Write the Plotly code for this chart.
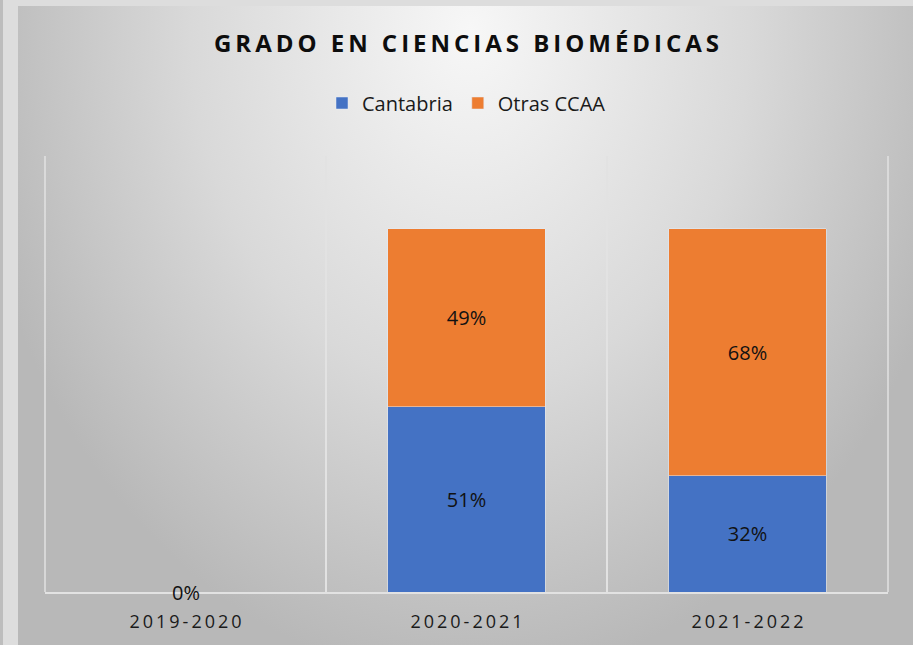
import base64
import plotly.graph_objects as go

# ---- data ----
categories = ["2019-2020", "2020-2021", "2021-2022"]
cantabria = [0, 51, 32]
otras_ccaa = [0, 49, 68]
series_names = ["Cantabria", "Otras CCAA"]
title_text = "GRADO EN CIENCIAS BIOMÉDICAS"

BLUE = "#4472C4"
ORANGE = "#ED7D31"
GRID = "#e2e2e2"
W, H = 913, 645
THIN = "\u2009"

def spaced(s, gap=THIN):
    words = s.split(" ")
    return (gap + " " + gap).join(gap.join(list(w)) for w in words)

tick_text = [spaced(c) for c in categories]

# plot-area geometry (pixels)
L, R, T, B = 45, 888, 156, 592
pw, ph = R - L, B - T

def lbl(v):
    return [f"{x}%" if x != 0 else "" for x in v]

fig = go.Figure()
fig.add_trace(go.Bar(
    x=categories, y=cantabria, name=series_names[0], marker_color=BLUE,
    text=lbl(cantabria), textposition="inside", insidetextanchor="middle",
    textfont=dict(size=20, color="#111111", family="Open Sans"),
    hoverinfo="skip",
))
fig.add_trace(go.Bar(
    x=categories, y=otras_ccaa, name=series_names[1], marker_color=ORANGE,
    text=lbl(otras_ccaa), textposition="inside", insidetextanchor="middle",
    textfont=dict(size=20, color="#111111", family="Open Sans"),
    hoverinfo="skip",
))

# zero labels drawn at the baseline
for c, a, b in zip(categories, cantabria, otras_ccaa):
    if a == 0 and b == 0:
        fig.add_annotation(x=c, y=a, text=f"{a}%", showarrow=False,
                           yanchor="middle", xanchor="center",
                           font=dict(size=20, color="#111111", family="Open Sans"))

# radial gradient background as an SVG image
svg = f'''<svg xmlns="http://www.w3.org/2000/svg" width="895" height="639" viewBox="0 0 895 639">
<defs><radialGradient id="g" gradientUnits="userSpaceOnUse" cx="452" cy="25" r="650"
 gradientTransform="translate(452,25) scale(0.78,1) translate(-452,-25)">
<stop offset="0" stop-color="#f7f7f7"/>
<stop offset="0.55" stop-color="#d9d9d9"/>
<stop offset="1" stop-color="#b8b8b8"/>
</radialGradient></defs>
<rect x="0" y="0" width="895" height="639" fill="url(#g)"/>
</svg>'''
src = "data:image/svg+xml;base64," + base64.b64encode(svg.encode()).decode()

fig.add_layout_image(dict(
    source=src, xref="paper", yref="paper",
    x=(18 - L) / pw, y=(B - 6) / ph,
    sizex=895 / pw, sizey=639 / ph,
    sizing="stretch", xanchor="left", yanchor="top", layer="below",
))

# left darker edge strip
fig.add_shape(type="rect", xref="paper", yref="paper",
              x0=(0 - L) / pw, x1=(3 - L) / pw, y0=(B - H) / ph, y1=(B - 0) / ph,
              fillcolor="#bdbdbd", line_width=0, layer="above")

# outer category-boundary gridlines at the plot-area edges
for xp in (0, 1):
    fig.add_shape(type="line", xref="paper", yref="paper",
                  x0=xp, x1=xp, y0=0, y1=1,
                  line=dict(color=GRID, width=1.5), layer="below")

fig.update_layout(
    width=W, height=H,
    margin=dict(l=L, r=W - R, t=T, b=H - B),
    paper_bgcolor="#dddddd",
    plot_bgcolor="rgba(0,0,0,0)",
    barmode="stack",
    bargap=0.44,
    title=dict(text=f"<b>{spaced(title_text)}</b>", x=0.5, xref="paper",
               y=1 - 44 / H, yanchor="middle", xanchor="center",
               font=dict(size=24, color="#0d0d0d", family="Open Sans")),
    legend=dict(orientation="h", x=0.5, xanchor="center",
                y=(B - 103) / ph, yanchor="middle",
                font=dict(size=20, color="#1a1a1a", family="Open Sans"),
                bgcolor="rgba(0,0,0,0)", traceorder="normal"),
    xaxis=dict(type="category", tickson="boundaries", showgrid=True,
               gridcolor=GRID, gridwidth=1.5,
               tickvals=categories, ticktext=tick_text,
               ticks="", showline=True, linecolor=GRID, linewidth=2,
               ticklabelstandoff=12,
               tickfont=dict(size=18, color="#1a1a1a", family="Open Sans"),
               fixedrange=True),
    yaxis=dict(range=[0, 120], showgrid=False, showticklabels=False,
               zeroline=False, showline=False, fixedrange=True),
    showlegend=True,
)

fig.write_html(
    "out.html",
    config={"displayModeBar": False},
    post_script="document.body.style.margin='0';document.body.style.padding='0';",
)
